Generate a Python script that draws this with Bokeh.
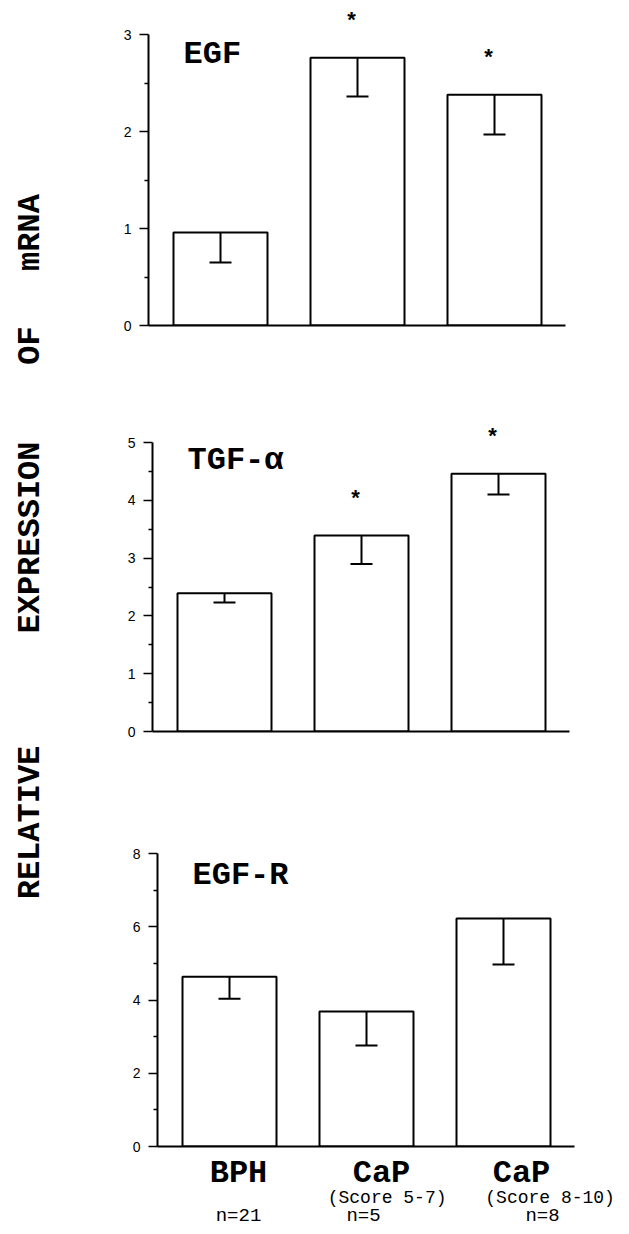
import numpy as np
from bokeh.plotting import figure
from bokeh.layouts import row, column
from bokeh.models import (ColumnDataSource, Whisker, TeeHead, FixedTicker,
                          Range1d, Spacer)
from bokeh.core.properties import value
from bokeh.embed import file_html
from bokeh.resources import INLINE

# ---------------- data ----------------
groups = ["BPH", "CaP", "CaP"]
group_scores = ["", "(Score  5-7)", "(Score  8-10)"]
group_n = ["n=21", "n=5", "n=8"]
xpos = [1, 2, 3]

egf_mean = [0.96, 2.76, 2.38]
egf_lower = [0.65, 2.36, 1.97]
egf_sig = ["", "*", "*"]

tgf_mean = [2.39, 3.39, 4.46]
tgf_lower = [2.23, 2.90, 4.10]
tgf_sig = ["", "*", "*"]

egfr_mean = [4.64, 3.69, 6.23]
egfr_lower = [4.04, 2.76, 4.97]
egfr_sig = ["", "", ""]

titles = ["EGF", "TGF-α", "EGF-R"]
y_major = [[0, 1, 2, 3], [0, 1, 2, 3, 4, 5], [0, 2, 4, 6, 8]]
y_minor = [[0.5, 1.5, 2.5], [0.5, 1.5, 2.5, 3.5, 4.5], [1, 3, 5, 7]]
y_label_words = ["RELATIVE", "EXPRESSION", "OF", "mRNA"]

# ---------------- layout constants ----------------
PX_X = 137.0                 # px per category step
X0 = 1 - 72 / PX_X
FRAME_W = 417
X1 = X0 + FRAME_W / PX_X
BAR_W = 94 / PX_X
LABEL_W = 68
PANEL_W = 553
LEFT = 80
MONO = value("Liberation Mono")
SANS = value("Liberation Sans")


def style_common(p):
    p.outline_line_color = None
    p.grid.visible = False
    p.background_fill_color = "white"
    p.border_fill_color = "white"


def make_panel(title, means, lowers, sig, majors, minors, ppu, frame_h,
               top, bottom, shift):
    y_end = frame_h / ppu
    p = figure(frame_width=FRAME_W, frame_height=frame_h,
               x_range=Range1d(X0, X1), y_range=Range1d(0, y_end),
               output_backend="svg", toolbar_location=None,
               min_border_left=LEFT,
               min_border_right=PANEL_W - LEFT - FRAME_W - shift,
               min_border_top=top, min_border_bottom=bottom)
    style_common(p)

    xa = p.xaxis[0]
    xa.ticker = FixedTicker(ticks=[])
    xa.axis_line_width = 2
    xa.axis_line_color = "black"
    xa.major_tick_out = 0
    xa.major_tick_in = 0
    xa.minor_tick_out = 0
    xa.minor_tick_in = 0
    xa.major_label_standoff = 0
    xa.major_label_text_font_size = "0px"

    ya = p.yaxis[0]
    ya.ticker = FixedTicker(ticks=majors, minor_ticks=minors)
    ya.bounds = (0, majors[-1])
    ya.axis_line_width = 2
    ya.axis_line_color = "black"
    ya.major_tick_out = 9
    ya.major_tick_in = 0
    ya.major_tick_line_width = 1.5
    ya.major_tick_line_color = "black"
    ya.minor_tick_out = 4
    ya.minor_tick_in = 0
    ya.minor_tick_line_width = 1.5
    ya.minor_tick_line_color = "black"
    ya.major_label_text_font = "Liberation Sans"
    ya.major_label_text_font_size = "14px"
    ya.major_label_text_color = "black"
    ya.major_label_standoff = 8

    # bars
    p.vbar(x=xpos, top=means, bottom=0, width=BAR_W, fill_color="white",
           line_color="black", line_width=2)

    # lower error bars only
    src = ColumnDataSource(dict(x=xpos, upper=means, lower=lowers))
    w = Whisker(source=src, base="x", upper="upper", lower="lower",
                upper_head=None,
                lower_head=TeeHead(size=22, line_width=2, line_color="black"),
                line_width=2, line_color="black", level="overlay")
    p.add_layout(w)

    # significance asterisks
    sy = [m + 38 / ppu for m in means]
    p.text(x=xpos, y=sy, text=sig, x_offset=-6, text_align="center",
           text_baseline="alphabetic", text_font=SANS,
           text_font_style="bold", text_font_size="22px", text_color="black")

    # panel title
    p.text(x=[X0 + 35 / PX_X], y=[271 / ppu], text=[title],
           text_align="left", text_baseline="middle", text_font=MONO,
           text_font_style="bold", text_font_size="32px", text_color="black")
    return p


p1 = make_panel(titles[0], egf_mean, egf_lower, egf_sig, y_major[0], y_minor[0],
                97.0, 317, 8, 65, 0)
p2 = make_panel(titles[1], tgf_mean, tgf_lower, tgf_sig, y_major[1], y_minor[1],
                57.8, 330, 11, 69, 4)
p3 = make_panel(titles[2], egfr_mean, egfr_lower, egfr_sig, y_major[2], y_minor[2],
                36.6, 315, 31, 10, 9)

# category labels strip below the last panel (same category scale)
STRIP_H = 70
SHIFT3 = 9
cx0 = X0 - (LEFT + SHIFT3) / PX_X
cx1 = cx0 + (PANEL_W - SHIFT3) / PX_X
strip = figure(frame_width=PANEL_W - SHIFT3, frame_height=STRIP_H,
               x_range=Range1d(cx0, cx1), y_range=Range1d(0, STRIP_H),
               x_axis_location=None, y_axis_location=None, min_border=0,
               output_backend="svg", toolbar_location=None)
style_common(strip)
strip.text(x=xpos, y=[53] * 3, text=groups, x_offset=[0, 6, 9],
           text_align="center", text_baseline="middle", text_font=MONO,
           text_font_style="bold", text_font_size="32px", text_color="black")
strip.text(x=xpos, y=[29] * 3, text=group_scores, x_offset=[0, 17, 43],
           text_align="center", text_baseline="middle", text_font=MONO,
           text_font_size="18px", text_color="black")
strip.text(x=xpos, y=[11] * 3, text=group_n, x_offset=[0, -12, 30],
           text_align="center", text_baseline="middle", text_font=MONO,
           text_font_size="19px", text_color="black")

# y-axis title (rotated words) in a narrow strip on the left
TOTAL_H = 1226
lab = figure(frame_width=LABEL_W, frame_height=TOTAL_H,
             x_range=Range1d(0, LABEL_W), y_range=Range1d(0, TOTAL_H),
             x_axis_location=None, y_axis_location=None, min_border=0,
             output_backend="svg", toolbar_location=None)
style_common(lab)
word_page_y = [822, 537, 345, 232]
lab.text(x=[30] * 4, y=[TOTAL_H - yy for yy in word_page_y],
         text=y_label_words, angle=np.pi / 2, text_align="center",
         text_baseline="middle", text_font=MONO, text_font_style="bold",
         text_font_size="32px", text_color="black")

layout = row(lab, column(p1,
                         row(Spacer(width=4, height=10), p2),
                         row(Spacer(width=9, height=10), p3),
                         row(Spacer(width=9, height=10), strip)))

open("out.html", "w").write(file_html(layout, INLINE))
